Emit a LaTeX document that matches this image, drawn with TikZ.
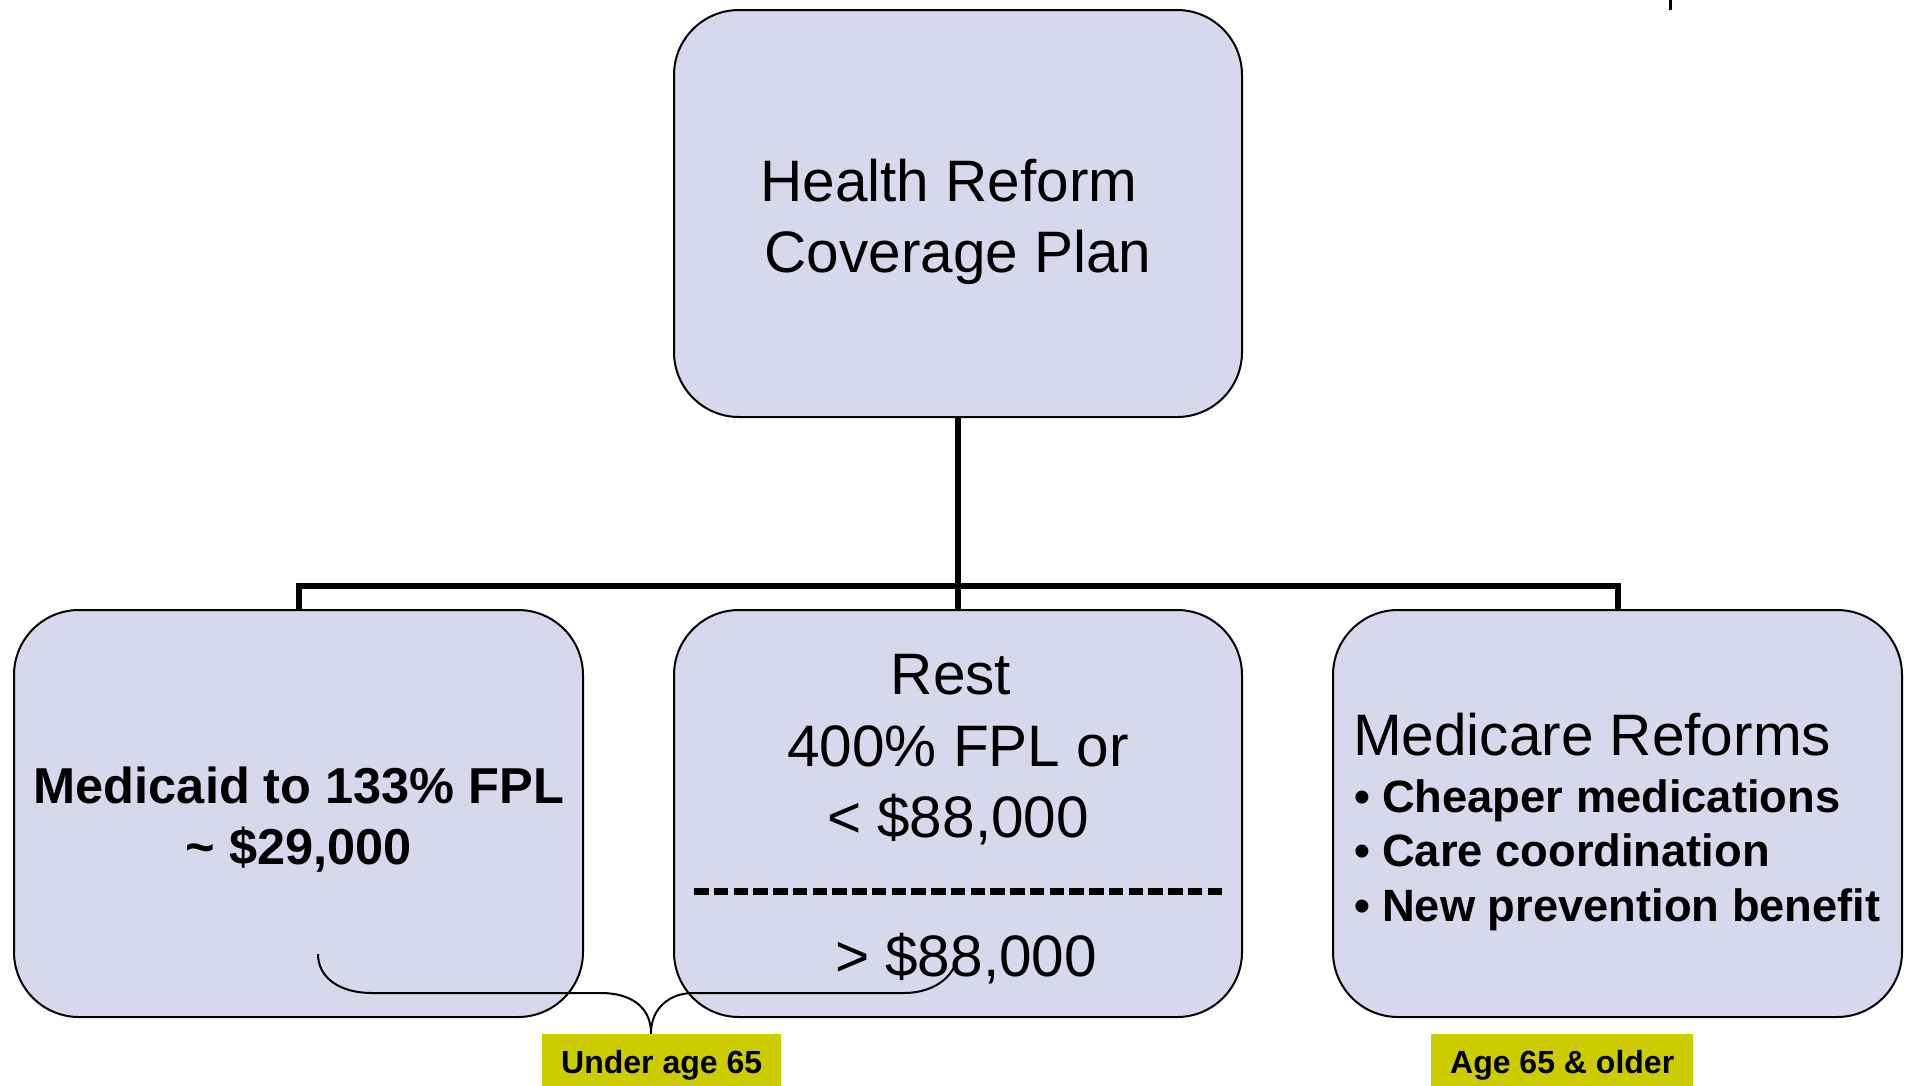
\documentclass[tikz,border=0pt]{standalone}
\usepackage{fontspec}
\setmainfont{Liberation Sans}
\definecolor{boxfill}{HTML}{D8D8EC}
\definecolor{labfill}{HTML}{CCCC00}
\begin{document}
\begin{tikzpicture}[x=1pt,y=-1pt,
  box/.style={draw=black, line width=2pt, fill=boxfill, rounded corners=65pt, inner sep=0pt},
  conn/.style={line width=6pt, line join=miter, line cap=butt},
  lab/.style={fill=labfill, inner sep=0pt, font=\fontsize{32}{36}\selectfont\bfseries},
  big/.style={font=\fontsize{58.5}{70}\selectfont, inner sep=0pt, anchor=base},
  bigb/.style={font=\fontsize{50.5}{60}\selectfont\bfseries, inner sep=0pt, anchor=base},
  bul/.style={font=\fontsize{45.3}{54}\selectfont\bfseries, inner sep=0pt, anchor=base west},
  brace/.style={line width=2pt}
]
\useasboundingbox (0,0) rectangle (1909,1085);

% small tick top right
\draw[line width=3pt] (1670,0) -- (1670,10);

% boxes
\node[box, minimum width=568pt, minimum height=407pt] (top) at (958,213.5) {};
\node[box, minimum width=569pt, minimum height=407pt] (left) at (298.5,813.5) {};
\node[box, minimum width=568pt, minimum height=407pt] (mid) at (958,813.5) {};
\node[box, minimum width=569pt, minimum height=407pt] (right) at (1617.5,813.5) {};

% connectors
\coordinate (bary) at (958,586);
\draw[conn] (top.south) -- (mid.north);
\draw[conn] (left.north) -- (left.north |- bary) -- (right.north |- bary) -- (right.north);

% top text
\node[big] (t1) at (949,201) {Health Reform};
\node[big] (t2) at (958,272) {Coverage Plan};

% left text
\node[bigb] (l1) at (299,803) {Medicaid to 133\% FPL};
\node[bigb] (l2) at (299,864) {\char"7E{} \$29,000};

% middle text
\node[big] (m1) at (951,694) {Rest};
\node[big] (m2) at (958,766) {400\% FPL or};
\node[big] (m3) at (958,837) {< \$88,000};
\draw[line width=7pt, dash pattern=on 14.5pt off 5.25pt] (694,891) -- (1222,891);
\node[big] (m4) at (966,976) {> \$88,000};

% right text
\node[big, anchor=base west] (r0) at (1353,755) {Medicare Reforms};
\node[bul] (b1) at (1354,812) {•};
\node[bul] (r1) at (1382,812) {Cheaper medications};
\node[bul] (b2) at (1354,866) {•};
\node[bul] (r2) at (1382,866) {Care coordination};
\node[bul] (b3) at (1354,921) {•};
\node[bul] (r3) at (1382,921) {New prevention benefit};

% labels
\node[lab, minimum width=239pt, minimum height=62pt, anchor=north west] (under) at (542,1034) {Under age 65};
\node[lab, minimum width=262pt, minimum height=62pt, anchor=north west] (older) at (1431,1034) {Age 65 \& older};

% brace
\coordinate (bl) at (318,954);
\coordinate (br) at (955,965);
\coordinate (tip) at (651,1033);
\draw[brace] (bl) .. controls (318,978) and (340,993) .. (372,993) -- (601,993)
  .. controls (632,993) and (651,1008) .. (tip)
  .. controls (651,1008) and (670,993) .. (693,993) -- (904,993)
  .. controls (928,993) and (948,982) .. (br);
\draw[brace] (tip) -- (under.north -| tip);
\end{tikzpicture}
\end{document}
